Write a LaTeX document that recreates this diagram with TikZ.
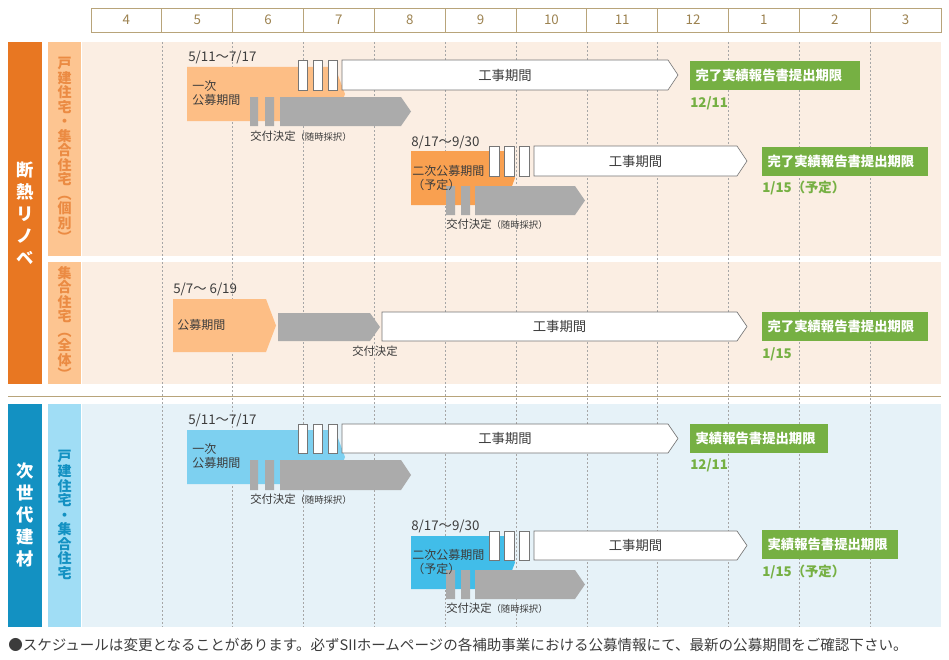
\documentclass[tikz,border=0pt]{standalone}
\usepackage{fontspec}
\setmainfont{Noto Sans CJK JP}
\definecolor{hdrbrown}{HTML}{9C8250}
\definecolor{hdrline}{HTML}{B8A47A}
\definecolor{ordark}{HTML}{E87722}
\definecolor{orsub}{HTML}{FDC591}
\definecolor{orbg}{HTML}{FBEEE3}
\definecolor{orlight}{HTML}{FDBE85}
\definecolor{ormid}{HTML}{F9A050}
\definecolor{bldark}{HTML}{1391C2}
\definecolor{blsub}{HTML}{A0DDF5}
\definecolor{blbg}{HTML}{E6F2F8}
\definecolor{bllight}{HTML}{7DD0F0}
\definecolor{blmid}{HTML}{41BDE9}
\definecolor{barg}{HTML}{ABABAB}
\definecolor{grn}{HTML}{76B043}
\definecolor{txt}{HTML}{3C3C3C}
\newcommand\tightlines{\lineskiplimit-20pt\relax}
\tikzset{
  datetxt/.style={anchor=south west,inner sep=0pt,font=\fontsize{10}{10}\selectfont,text=txt},
  smalltxt/.style={anchor=north west,inner sep=0pt,font=\fontsize{8.5}{9}\selectfont,text=txt},
  steptxt/.style={anchor=west,inner sep=0pt,font=\fontsize{9}{10.5}\selectfont\tightlines,text=txt,align=left},
  greenbox/.style={fill=grn,text=white,font=\fontsize{10}{10}\selectfont\bfseries,anchor=west,inner sep=0pt},
  greentxt/.style={anchor=west,inner sep=0pt,text=grn,font=\fontsize{10}{10}\selectfont\bfseries},
  whitebox/.style={draw=txt!70,fill=white,line width=0.5pt},
  vlabel/.style={align=center,inner sep=0pt,font=\fontsize{10.5}{10.9}\selectfont\bfseries\tightlines},
  biglabel/.style={align=center,inner sep=0pt,text=white,font=\fontsize{13}{16.5}\selectfont\bfseries\tightlines},
  monthline/.style={gray!70,dashed,dash pattern=on 1.5pt off 1.5pt,line width=0.4pt}
}
% chevron: style, x1, y1, x2, y2 (tip 10 px beyond x2)
\newcommand\chevron[5]{\fill[#1] (#2,#3) -- (#4,#3) -- ({#4+10},{(#3+#5)/2}) -- (#4,#5) -- (#2,#5) -- cycle;}
\newcommand\whitechev[5]{\draw[whitebox] (#2,#3) -- (#4,#3) -- ({#4+10},{(#3+#5)/2}) -- (#4,#5) -- (#2,#5) -- cycle;
  \node[font=\fontsize{10}{10}\selectfont,text=txt] (#1) at ({(#2+#4)/2},{(#3+#5)/2}) {工事期間};}
\begin{document}
\begin{tikzpicture}[x=0.75pt,y=-0.75pt]
\useasboundingbox (0,0) rectangle (949,660);
% month header
\foreach \m [count=\i from 0] in {4,5,6,7,8,9,10,11,12,1,2,3}{
  \draw[hdrline,line width=0.6pt] ({91+\i*70.83},8) rectangle ({91+(\i+1)*70.83},32);
  \node[text=hdrbrown,font=\fontsize{10}{10}\selectfont] (m\i) at ({91+(\i+0.5)*70.83},20) {\m};
}
% backgrounds
\fill[ordark] (8,42) rectangle (42,384);
\fill[orsub] (48,42) rectangle (81,256);
\fill[orsub] (48,262) rectangle (81,384);
\fill[orbg] (82,42) rectangle (941,256);
\fill[orbg] (82,262) rectangle (941,384);
\draw[hdrline,line width=0.6pt] (8,396) -- (941,396);
\fill[bldark] (8,404) rectangle (42,627);
\fill[blsub] (48,404) rectangle (81,627);
\fill[blbg] (82,404) rectangle (941,627);
\foreach \i in {1,...,11}{
  \draw[monthline] ({91+\i*70.83},42) -- ({91+\i*70.83},627);
}
\node[biglabel] (danlbl) at (25,213) {断\\熱\\リ\\ノ\\ベ};
\node[vlabel,text=ordark!85] (kobetsu) at (64.5,150) {戸\\建\\住\\宅\\・\\集\\合\\住\\宅\\︵\\個\\別\\︶};
\node[vlabel,text=ordark!85] (zentai) at (64.5,323) {集\\合\\住\\宅\\︵\\全\\体\\︶};
\node[biglabel] (jisedai) at (25,515) {次\\世\\代\\建\\材};
\node[vlabel,text=bldark] (jisedaisub) at (64.5,515) {戸\\建\\住\\宅\\・\\集\\合\\住\\宅};

% ---- 断熱 row 1
\node[datetxt] (d1) at (188,64) {5/11〜7/17};
\chevron{orlight}{187}{67}{335}{121}
\chevron{barg}{280}{97}{401}{126}
\fill[barg] (250,97) rectangle (258,126) (265,97) rectangle (274,126);
\foreach \x in {298,313,328} \draw[whitebox] (\x,60) rectangle (\x+9,90);
\whitechev{k1}{342}{60}{668}{90}
\node[steptxt] (p1) at (192,93) {一次\\公募期間};
\node[smalltxt] (s1) at (250,131) {交付決定\fontsize{7}{8}\selectfont（随時採択）};
\node[greenbox,minimum height=22pt,text width=170*0.75pt-8pt,inner xsep=4pt] (g1) at (690,75.5) {完了実績報告書提出期限};
\node[greentxt] (t1) at (690,103) {12/11};
% ---- 断熱 row 2
\node[datetxt] (d2) at (411,149) {8/17〜9/30};
\chevron{ormid}{411}{151}{505}{205}
\chevron{barg}{475}{186}{575}{215}
\fill[barg] (446,186) rectangle (455,215) (461,186) rectangle (470,215);
\foreach \x in {489,504,519} \draw[whitebox] (\x,146) rectangle (\x+10,176);
\whitechev{k2}{534}{146}{737}{176}
\node[steptxt] (p2) at (412,178) {二次公募期間\\（予定）};
\node[smalltxt] (s2) at (446,219) {交付決定\fontsize{7}{8}\selectfont（随時採択）};
\node[greenbox,minimum height=22pt,text width=166*0.75pt-8pt,inner xsep=4pt] (g2) at (762,161.5) {完了実績報告書提出期限};
\node[greentxt] (t2) at (762,188) {1/15（予定）};
% ---- 断熱 row 3
\node[datetxt] (d3) at (173,296) {5/7〜 6/19};
\chevron{orlight}{173}{299}{266}{352}
\chevron{barg}{278}{313}{370}{341}
\whitechev{k3}{382}{312}{737}{341}
\node[steptxt] (p3) at (177,325) {公募期間};
\node[smalltxt] (s3) at (352,346) {交付決定};
\node[greenbox,minimum height=22pt,text width=166*0.75pt-8pt,inner xsep=4pt] (g3) at (762,326.5) {完了実績報告書提出期限};
\node[greentxt] (t3) at (762,354) {1/15};

% ---- 次世代 row 1
\node[datetxt] (d4) at (188,427) {5/11〜7/17};
\chevron{bllight}{187}{430}{335}{484}
\chevron{barg}{280}{460}{401}{490}
\fill[barg] (250,460) rectangle (258,490) (265,460) rectangle (274,490);
\foreach \x in {298,313,328} \draw[whitebox] (\x,424) rectangle (\x+9,453);
\whitechev{k4}{342}{424}{668}{453}
\node[steptxt] (p4) at (192,456) {一次\\公募期間};
\node[smalltxt] (s4) at (250,494) {交付決定\fontsize{7}{8}\selectfont（随時採択）};
\node[greenbox,minimum height=22pt,text width=138*0.75pt-8pt,inner xsep=4pt] (g4) at (690,438.5) {実績報告書提出期限};
\node[greentxt] (t4) at (690,465) {12/11};
% ---- 次世代 row 2
\node[datetxt] (d5) at (411,533) {8/17〜9/30};
\chevron{blmid}{411}{536}{505}{589}
\chevron{barg}{475}{570}{575}{599}
\fill[barg] (446,570) rectangle (455,599) (461,570) rectangle (470,599);
\foreach \x in {489,504,519} \draw[whitebox] (\x,531) rectangle (\x+10,560);
\whitechev{k5}{534}{531}{737}{560}
\node[steptxt] (p5) at (412,562) {二次公募期間\\（予定）};
\node[smalltxt] (s5) at (446,603) {交付決定\fontsize{7}{8}\selectfont（随時採択）};
\node[greenbox,minimum height=22pt,text width=136*0.75pt-8pt,inner xsep=4pt] (g5) at (762,544.5) {実績報告書提出期限};
\node[greentxt] (t5) at (762,572) {1/15（予定）};

% footer
\node[anchor=west,inner sep=0pt,text=txt,font=\fontsize{10.9}{11}\selectfont] (note) at (8,645) {●スケジュールは変更となることがあります。必ずSIIホームページの各補助事業における公募情報にて、最新の公募期間をご確認下さい。};
\end{tikzpicture}
\end{document}
